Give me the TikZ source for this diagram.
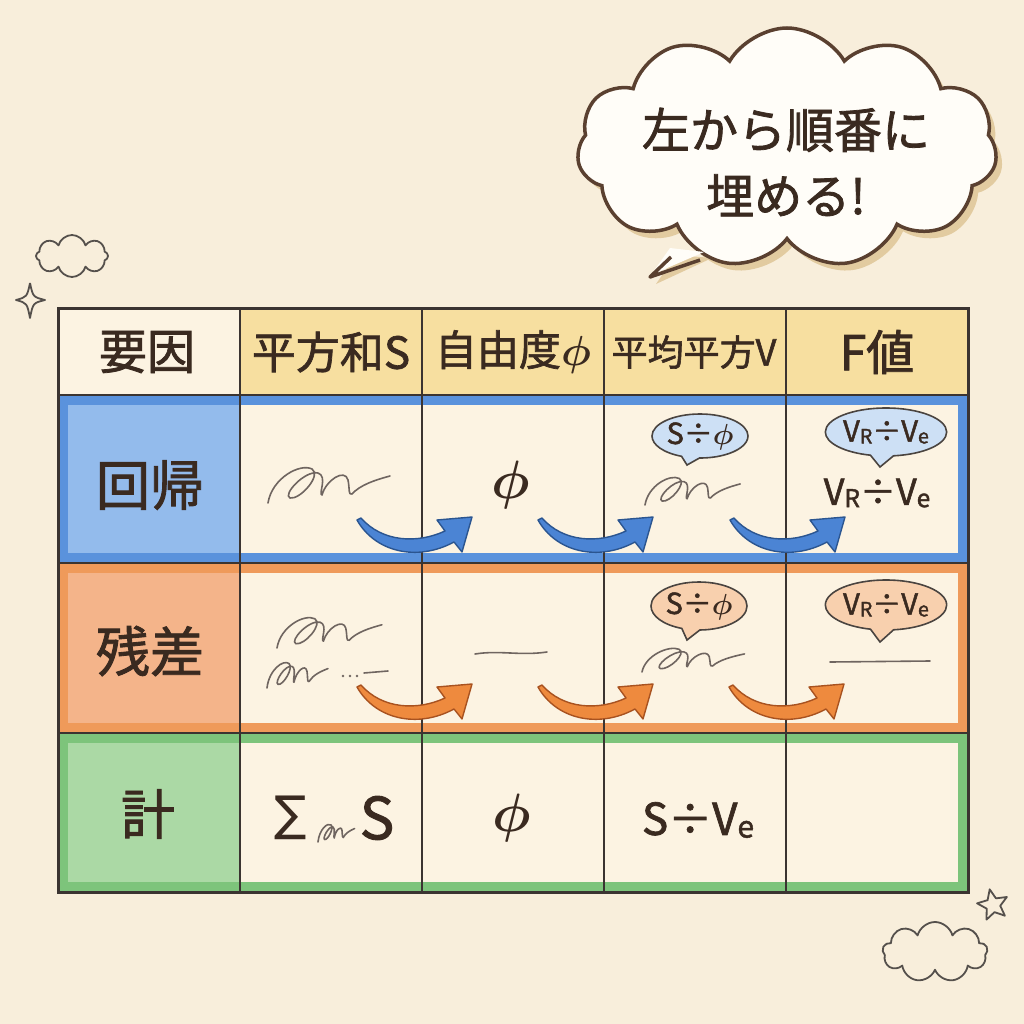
\RequirePackage{fix-cm}
\documentclass[tikz,border=0pt]{standalone}
\usepackage{graphicx}
\usepackage{fontspec}
\setmainfont{Noto Sans CJK JP}[BoldFont={Noto Sans CJK JP}, BoldFeatures={FakeBold=1.6}]
\newfontfamily\symfont{DejaVu Sans}
\usetikzlibrary{shapes.symbols,shapes.geometric,shapes.callouts}

\definecolor{paper}{HTML}{F8EEDB}
\definecolor{cell}{HTML}{FCF3E2}
\definecolor{hdryellow}{HTML}{F7DFA0}
\definecolor{ink}{HTML}{3A2A20}
\definecolor{gridline}{HTML}{3B3431}
\definecolor{regband}{HTML}{5A92DC}
\definecolor{regfill}{HTML}{93BBEC}
\definecolor{resband}{HTML}{EF9A5A}
\definecolor{resfill}{HTML}{F4B48A}
\definecolor{totband}{HTML}{7DC47B}
\definecolor{totfill}{HTML}{ABD9A5}
\definecolor{arrblue}{HTML}{4B84D4}
\definecolor{arrbluedark}{HTML}{2B5590}
\definecolor{arrorange}{HTML}{EE8A3E}
\definecolor{arrorangedark}{HTML}{A85220}
\definecolor{tipblue}{HTML}{CDE0F5}
\definecolor{tiporange}{HTML}{F8D0AE}
\definecolor{tipline}{HTML}{4A4440}
\definecolor{scrawlgray}{HTML}{6F6560}
\definecolor{decoink}{HTML}{55504C}
\definecolor{bubblefill}{HTML}{FFFDF8}
\definecolor{bubbleink}{HTML}{5A4030}
\definecolor{shadowtan}{HTML}{E2CBA0}

% subscript-like small letter
\newcommand{\lo}[1]{\raisebox{-0.06em}{\scalebox{0.68}{#1}}}
% bold slanted phi
\newcommand{\ph}{{\boldmath$\phi$}}

% curved "next cell" arrow, tail at #1
\newcommand{\nextarrow}[3]{%
  \filldraw[fill=#2, draw=#3, line width=1.4pt, line join=round, shift={#1}]
    (0,0) .. controls (18,32) and (60,42) .. (97,22) -- (105,32) -- (115,-3)
    -- (80,0) -- (88,11) .. controls (60,24) and (25,22) .. (4,-2) -- cycle;}

\tikzset{
  tablerule/.style={draw=gridline, line width=2.2pt},
  band/.style={line width=10pt},
  hdr/.style={text=ink, font=\bfseries\fontsize{44}{48}\selectfont},
  lbl/.style={text=ink, font=\bfseries\fontsize{54}{58}\selectfont},
  val/.style={text=ink, font=\bfseries\fontsize{36}{40}\selectfont},
  hint/.style={ellipse callout, draw=tipline, line width=1.6pt, inner sep=0pt,
    minimum width=96pt, minimum height=44pt, callout pointer arc=22,
    text=ink, font=\bfseries\fontsize{29}{32}\selectfont},
  scribble/.style={draw=scrawlgray, line width=1.6pt, line cap=round, line join=round},
  doodle/.style={draw=decoink, line width=1.8pt, line join=round},
  scrawl/.pic={
    \draw[scribble] (0,0) .. controls (4,-25) and (32,-40) .. (44,-34)
      .. controls (54,-28) and (32,-3) .. (22,-5)
      .. controls (14,-8) and (37,-33) .. (50,-30)
      .. controls (60,-27) and (50,-8) .. (54,-8)
      .. controls (58,-23) and (77,-35) .. (80,-23)
      .. controls (82,-13) and (80,-8) .. (84,-9)
      .. controls (92,-18) and (107,-23) .. (122,-27);
  }
}

\begin{document}
\begin{tikzpicture}[x=1pt, y=-1pt]
  % Paper
  \fill[paper] (0,0) rectangle (1024,1024);
  \useasboundingbox (0,0) rectangle (1024,1024);

  % Cells and header
  \fill[cell] (58,308) rectangle (968,892);
  \fill[hdryellow] (240,308) rectangle (968,395);

  % Row bands
  \fill[regfill] (58,395) rectangle (240,563);
  \draw[band, regband] (63,400) rectangle (963,558);
  \fill[resfill] (58,563) rectangle (240,733);
  \draw[band, resband] (63,568) rectangle (963,728);
  \fill[totfill] (58,733) rectangle (240,892);
  \draw[band, totband] (63,738) rectangle (963,887);

  % Table rules
  \foreach \x in {240,422,604,786}
    \draw[tablerule] (\x,308) -- (\x,892);
  \foreach \y in {395,563,733}
    \draw[tablerule] (58,\y) -- (968,\y);
  \draw[tablerule, line width=3pt] (58,308) rectangle (968,892);

  % Header
  \node[hdr, font=\bfseries\fontsize{48}{52}\selectfont] (hFactor) at (147,352) {要因};
  \node[hdr] (hSum) at (331,352) {平方和S};
  \node[hdr, font=\bfseries\fontsize{42}{46}\selectfont] (hDf) at (513,352) {自由度\ph};
  \node[hdr, font=\bfseries\fontsize{36}{40}\selectfont] (hMean) at (694,352) {平均平方V};
  \node[hdr, font=\bfseries\fontsize{48}{52}\selectfont] (hF) at (877,352) {F値};

  % Row labels
  \node[lbl] (rReg) at (150,485) {回帰};
  \node[lbl] (rRes) at (150,651) {残差};
  \node[lbl] (rTot) at (148,814) {計};

  % Regression row
  \pic at (268,503) {scrawl};
  \node[val, font=\fontsize{54}{58}\selectfont] (regDf) at (511,485) {\ph};
  \node[hint, fill=tipblue, callout absolute pointer={(687,465)}] (regHint) at (700,436) {S÷\ph};
  \pic[scale=0.78] at (645,505) {scrawl};
  \node[hint, fill=tipblue, minimum width=117pt, minimum height=48pt,
    callout absolute pointer={(880,467)}] (regFHint) at (886,432) {V\lo{R}÷V\lo{e}};
  \node[val] (regF) at (877,493) {V\lo{R}÷V\lo{e}};

  % Residual row
  \pic[scale=0.86] at (277,648) {scrawl};
  \pic[xscale=0.5, yscale=0.72] at (267,688) {scrawl};
  \foreach \x in {343,350,357}
    \fill[scrawlgray] (\x,676) circle (1.3);
  \draw[scribble] (364,673) -- (388,671);
  \draw[scribble] (475,654) .. controls (500,650) and (520,656) .. (547,652);
  \node[hint, fill=tiporange, minimum height=48pt, callout absolute pointer={(687,640)}] (resHint) at (699,606) {S÷\ph};
  \pic[xscale=0.84, yscale=0.67] at (642,672) {scrawl};
  \node[hint, fill=tiporange, minimum width=117pt, minimum height=50pt,
    callout absolute pointer={(880,642)}] (resFHint) at (886,605) {V\lo{R}÷V\lo{e}};
  \draw[scribble] (830,662) -- (930,661);

  % Total row
  \node[text=ink, font=\symfont\fontsize{48}{50}\selectfont] (totSigma) at (291,818) {∑};
  \pic[xscale=0.3, yscale=0.5] at (318,842) {scrawl};
  \node[val, font=\bfseries\fontsize{58}{60}\selectfont] (totS) at (377,818) {S};
  \node[val, font=\fontsize{54}{58}\selectfont] (totDf) at (512,818) {\ph};
  \node[val, font=\bfseries\fontsize{44}{48}\selectfont] (totMean) at (698,820) {S÷V\lo{e}};

  % Arrows, left to right
  \nextarrow{(357,520)}{arrblue}{arrbluedark}
  \nextarrow{(538,520)}{arrblue}{arrbluedark}
  \nextarrow{(730,520)}{arrblue}{arrbluedark}
  \nextarrow{(357,687)}{arrorange}{arrorangedark}
  \nextarrow{(538,687)}{arrorange}{arrorangedark}
  \nextarrow{(729,687)}{arrorange}{arrorangedark}

  % Speech bubble
  \node[cloud, cloud puffs=11, cloud puff arc=120, aspect=1.75, fill=shadowtan,
    minimum width=420pt, minimum height=240pt] (bubbleShade) at (793,155) {};
  \fill[shadowtan] (676,255) -- (656,284) -- (712,258) -- cycle;
  \node[cloud, cloud puffs=11, cloud puff arc=120, aspect=1.75, fill=bubblefill,
    draw=bubbleink, line width=3.5pt, minimum width=420pt, minimum height=240pt] (bubble) at (787,148) {};
  \fill[bubblefill] (670,248) -- (651,275) -- (704,252) -- cycle;
  \draw[bubbleink, line width=3.5pt, line join=round] (671,257) -- (650,277) -- (700,260);
  \node[text=ink, align=center, font=\bfseries\fontsize{48}{66}\selectfont] (bubbleText) at (786,162) {左から順番に\\埋める!};

  % Doodles
  \node[cloud, cloud puffs=8, doodle, aspect=1.8, minimum width=72pt, minimum height=42pt, inner sep=0pt] (puffA) at (72,256) {};
  \draw[doodle] (30,283) .. controls (33,297) .. (45,300) .. controls (33,303) .. (30,318)
    .. controls (27,303) .. (16,300) .. controls (27,297) .. (30,283);
  \node[star, star points=5, star point ratio=2.2, doodle, minimum size=32pt, inner sep=0pt, rotate=12] (starB) at (993,905) {};
  \node[cloud, cloud puffs=9, doodle, aspect=1.8, minimum width=105pt, minimum height=60pt, inner sep=0pt] (puffB) at (935,952) {};
\end{tikzpicture}
\end{document}
